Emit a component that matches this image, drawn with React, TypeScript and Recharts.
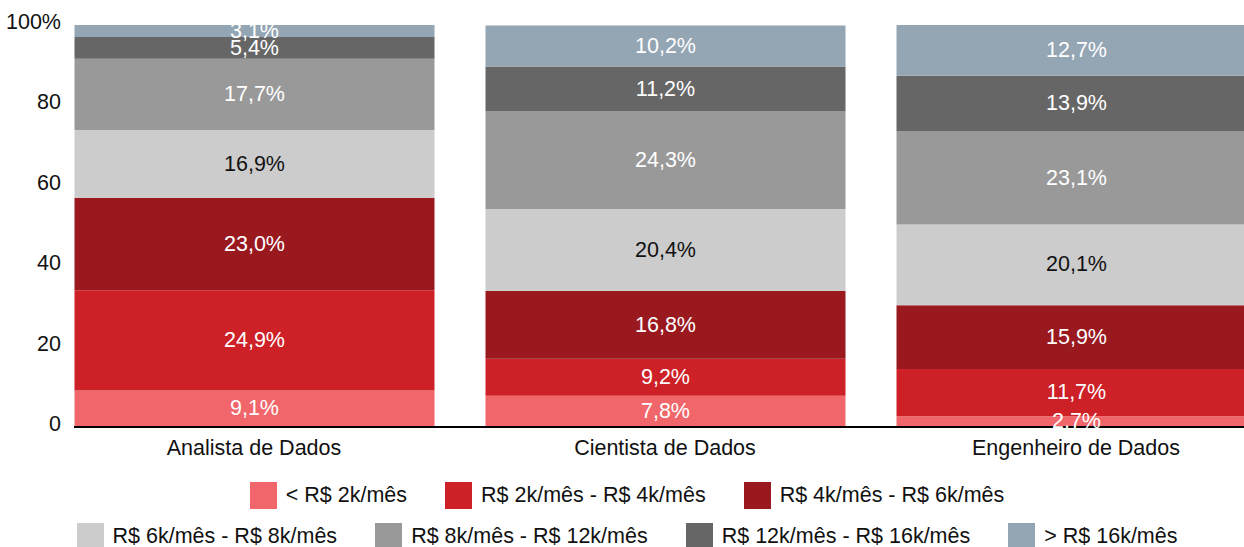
import { Bar, BarChart, LabelList, XAxis, YAxis } from "recharts";

const categories = ["Analista de Dados", "Cientista de Dados", "Engenheiro de Dados"];

const seriesNames = [
    "< R$ 2k/mês",
    "R$ 2k/mês - R$ 4k/mês",
    "R$ 4k/mês - R$ 6k/mês",
    "R$ 6k/mês - R$ 8k/mês",
    "R$ 8k/mês - R$ 12k/mês",
    "R$ 12k/mês - R$ 16k/mês",
    "> R$ 16k/mês",
];

const seriesColors = ["#F0666A", "#CD2027", "#99191F", "#CCCCCC", "#999999", "#666666", "#94A5B3"];
const labelColors = ["#fff", "#fff", "#fff", "#111", "#fff", "#fff", "#fff"];

// percent of respondents per salary range, per role
const ate2k = [9.1, 7.8, 2.7];
const de2a4k = [24.9, 9.2, 11.7];
const de4a6k = [23.0, 16.8, 15.9];
const de6a8k = [16.9, 20.4, 20.1];
const de8a12k = [17.7, 24.3, 23.1];
const de12a16k = [5.4, 11.2, 13.9];
const acima16k = [3.1, 10.2, 12.7];

const yTicks = [0, 20, 40, 60, 80, 100];

const seriesValues = [ate2k, de2a4k, de4a6k, de6a8k, de8a12k, de12a16k, acima16k];

const data = categories.map((name, i) => {
    const row: Record<string, string | number> = { name };
    seriesValues.forEach((vals, s) => {
        row[`s${s}`] = vals[i];
    });
    return row;
});

const FONT = '"Liberation Sans", Arial, sans-serif';
const FS = 21.5;
const GAP = 38;

const fmt = (v: any) => `${Number(v).toFixed(1).replace(".", ",")}%`;

const YTick = ({ y, payload }: any) => (
    <text x={61} y={y + 4} textAnchor="end" fontSize={FS} fontFamily={FONT} fill="#111">
        {payload.value === 100 ? "100%" : payload.value}
    </text>
);

const XTick = ({ x, payload }: any) => (
    <text x={x} y={455} textAnchor="middle" fontSize={FS} fontFamily={FONT} fill="#111">
        {payload.value}
    </text>
);

const LegendItem = ({ idx }: { idx: number }) => (
    <div style={{ display: "flex", alignItems: "center", marginRight: GAP }}>
        <div style={{ width: 27, height: 27, background: seriesColors[idx], marginRight: 9 }} />
        <span style={{ fontSize: FS, color: "#111", whiteSpace: "nowrap" }}>{seriesNames[idx]}</span>
    </div>
);

export default function App() {
    return (
        <div
            style={{
                position: "absolute",
                left: 0,
                top: 0,
                width: 1244,
                height: 547,
                overflow: "hidden",
                background: "#fff",
                fontFamily: FONT,
            }}
        >
            <BarChart
                width={1300}
                height={547}
                data={data}
                margin={{ top: 25, right: 18.5, left: 0, bottom: 80 }}
            >
                <YAxis
                    width={74}
                    domain={[0, 100]}
                    ticks={yTicks}
                    allowDataOverflow
                    axisLine={false}
                    tickLine={false}
                    tick={<YTick />}
                />
                <XAxis
                    dataKey="name"
                    height={40}
                    padding={{ left: -25.5, right: 0 }}
                    axisLine={{ stroke: "#000", strokeWidth: 2 }}
                    tickLine={false}
                    tick={<XTick />}
                    interval={0}
                />
                {seriesNames.map((n, s) => (
                    <Bar
                        key={n}
                        dataKey={`s${s}`}
                        name={n}
                        stackId="a"
                        fill={seriesColors[s]}
                        barSize={360}
                        isAnimationActive={false}
                    >
                        <LabelList
                            dataKey={`s${s}`}
                            position="center"
                            formatter={fmt}
                            fill={labelColors[s]}
                            fontSize={FS}
                            fontFamily={FONT}
                            dy={-1}
                        />
                    </Bar>
                ))}
            </BarChart>
            <div style={{ position: "absolute", top: 482, left: 0, width: 1254 }}>
                <div style={{ display: "flex", justifyContent: "center", paddingLeft: GAP }}>
                    {[0, 1, 2].map((i) => (
                        <LegendItem key={i} idx={i} />
                    ))}
                </div>
                <div style={{ display: "flex", justifyContent: "center", paddingLeft: GAP, marginTop: 14 }}>
                    {[3, 4, 5, 6].map((i) => (
                        <LegendItem key={i} idx={i} />
                    ))}
                </div>
            </div>
        </div>
    );
}
